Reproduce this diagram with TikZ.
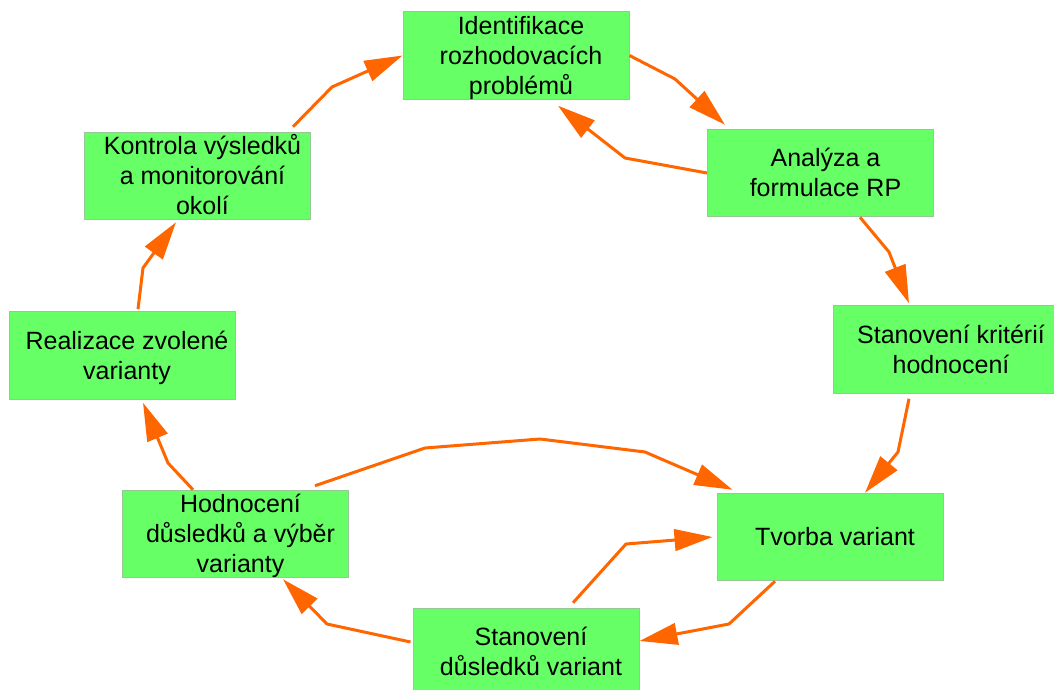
\documentclass[tikz,border=0pt]{standalone}
\usepackage{fontspec}
\setmainfont{Liberation Sans}
\usetikzlibrary{arrows.meta}
\definecolor{boxfill}{RGB}{102,255,102}
\definecolor{boxline}{RGB}{150,200,150}
\definecolor{arr}{RGB}{255,102,0}
\begin{document}
\begin{tikzpicture}[x=1pt,y=-1pt,
  box/.style={draw=boxline, line width=1pt, fill=boxfill, minimum width=226pt, minimum height=87.5pt, inner sep=0pt},
  txt/.style={align=center, inner sep=0pt, font=\fontsize{25}{30}\selectfont, text depth=5pt},
  lone/.style={txt, text height=22.9pt},
  ltwo/.style={txt, text height=52.9pt},
  lthree/.style={txt, text height=82.9pt},
  conn/.style={draw=arr, line width=3pt, line join=round, -{Triangle[length=38pt,width=21.5pt]}}]
\fill[white] (0,0) rectangle (1054,690);
\useasboundingbox (0,0) rectangle (1054,690);

\node[box] (ide) at (516,55.5) {};
\node[box] (ana) at (820.5,173) {};
\node[box] (kri) at (946,349.5) {};
\node[box] (tvo) at (830,537) {};
\node[box] (dus) at (526,652) {};
\node[box] (hod) at (235.5,534) {};
\node[box] (rea) at (122,355.5) {};
\node[box] (kon) at (197.5,176) {};

\node[lthree] (tide) at ([xshift=5pt]ide.center) {Identifikace\\rozhodovacích\\problémů};
\node[ltwo] (tana) at ([xshift=5pt]ana.center) {Analýza a\\formulace RP};
\node[ltwo] (tkri) at ([xshift=5pt]kri.center) {Stanovení kritérií\\hodnocení};
\node[lone] (ttvo) at ([xshift=5pt]tvo.center) {Tvorba variant};
\node[ltwo] (tdus) at ([xshift=5pt]dus.center) {Stanovení\\důsledků variant};
\node[lthree] (thod) at ([xshift=5pt]hod.center) {Hodnocení\\důsledků a výběr\\varianty};
\node[ltwo] (trea) at ([xshift=5pt]rea.center) {Realizace zvolené\\varianty};
\node[lthree] (tkon) at ([xshift=5pt]kon.center) {Kontrola výsledků\\a monitorování\\okolí};

\draw[conn] ([shift={(95.5,-5)}]kon.north) -- (332,87) -- (ide.west);
\draw[conn] (ide.east) -- (675,79) -- ([shift={(18,-4)}]ana.north west);
\draw[conn] (ana.west) -- (625,158) -- ([shift={(42,6)}]ide.south);
\draw[conn] ([shift={(39.5,0)}]ana.south) -- (889,252) -- ([shift={(-37,-2)}]kri.north);
\draw[conn] ([shift={(-37,5)}]kri.south) -- (898,452) -- ([shift={(35,0)}]tvo.north);
\draw[conn] ([shift={(-55,0)}]tvo.south) -- (729,624) -- ([shift={(0,-11)}]dus.east);
\draw[conn] ([shift={(-2,-10)}]dus.west) -- (327,624) -- ([shift={(47.5,1)}]hod.south);
\draw[conn] ([shift={(47,-5)}]dus.north) -- (626,544) -- ([shift={(-4,0)}]tvo.west);
\draw[conn] ([shift={(79.5,-4)}]hod.north) -- (425,448) -- (540,439) -- (645,452) -- ([shift={(16,-3)}]tvo.north west);
\draw[conn] ([shift={(-42.5,0)}]hod.north) -- (168,463) -- ([shift={(21,3)}]rea.south);
\draw[conn] ([shift={(16,-2)}]rea.north) -- (143,268) -- ([shift={(-21.5,2)}]kon.south);
\end{tikzpicture}
\end{document}
